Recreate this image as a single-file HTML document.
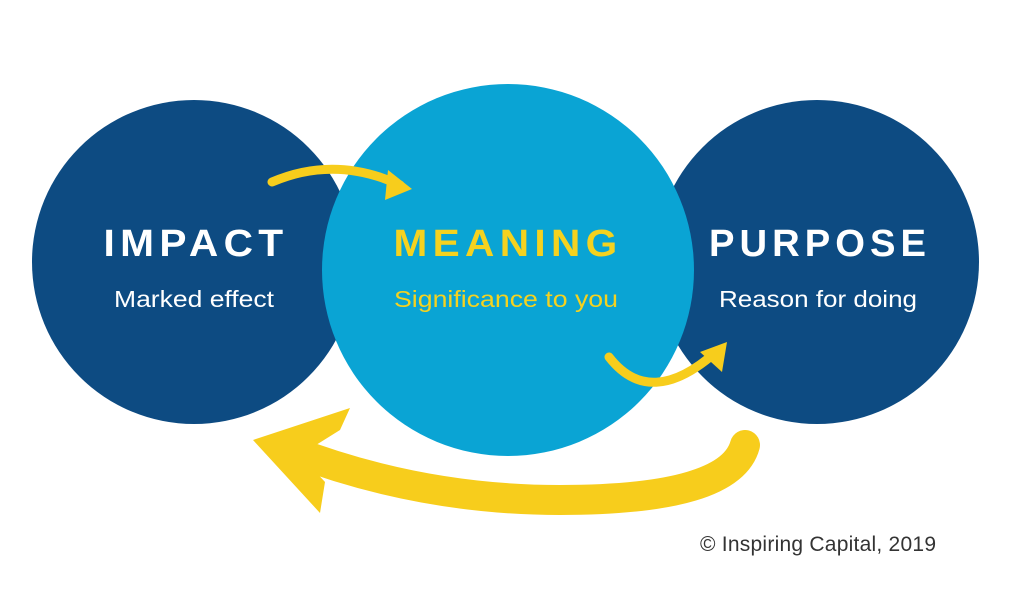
<!DOCTYPE html>
<html><head><meta charset="utf-8"><style>
html,body{margin:0;padding:0;background:#fff;}
body{width:1024px;height:603px;overflow:hidden;font-family:"Liberation Sans",sans-serif;}
</style></head><body>
<svg width="1024" height="603" viewBox="0 0 1024 603" xmlns="http://www.w3.org/2000/svg">
<circle cx="194" cy="262" r="162" fill="#0d4b82"/>
<circle cx="817" cy="262" r="162" fill="#0d4b82"/>
<circle cx="508" cy="270" r="186" fill="#0aa4d4"/>
<g fill="none" stroke="#f7cd1c" stroke-linecap="round">
<path d="M272 182 Q335 155 400 185" stroke-width="9"/>
<path d="M609 357 Q650 410 716 352" stroke-width="9"/>
<path d="M745 445 Q730 500 560 500 Q420 500 290 450" stroke-width="30"/>
</g>
<g fill="#f7cd1c">
<path d="M388 170 L412 189 L385 200 Z"/>
<path d="M700 352 L727 342 L722 372 Z"/>
<path d="M253 440 L350 408 L340 430 L300 455 L325 482 L320 513 Z"/>
</g>
<g font-weight="bold" font-size="38" text-anchor="middle" letter-spacing="5">
<text x="196" y="256" fill="#fff" textLength="185" lengthAdjust="spacingAndGlyphs">IMPACT</text>
<text x="508" y="256" fill="#f5d21f" textLength="229" lengthAdjust="spacingAndGlyphs">MEANING</text>
<text x="820" y="256" fill="#fff" textLength="222" lengthAdjust="spacingAndGlyphs">PURPOSE</text>
</g>
<g font-size="23" text-anchor="middle">
<text x="194" y="307" fill="#fff" textLength="160" lengthAdjust="spacingAndGlyphs">Marked effect</text>
<text x="506" y="307" fill="#f5d21f" textLength="224" lengthAdjust="spacingAndGlyphs">Significance to you</text>
<text x="818" y="307" fill="#fff" textLength="198" lengthAdjust="spacingAndGlyphs">Reason for doing</text>
</g>
<text x="700" y="551" font-size="21" fill="#333" textLength="236">© Inspiring Capital, 2019</text>
</svg>
</body></html>
